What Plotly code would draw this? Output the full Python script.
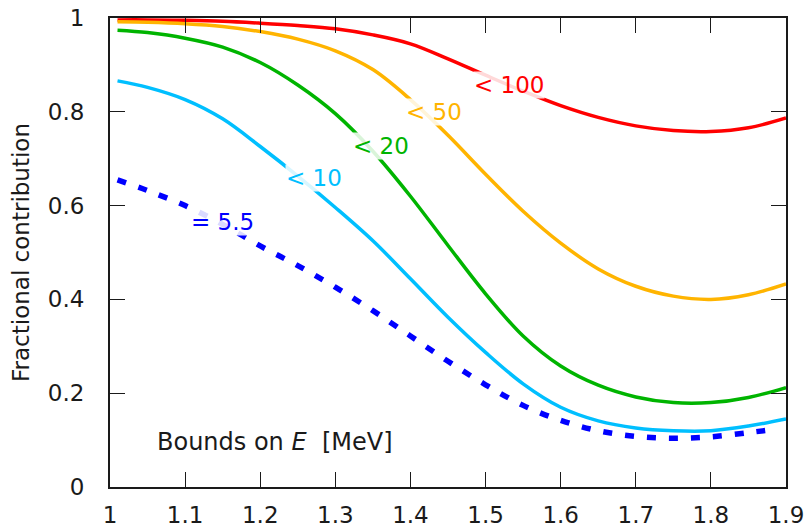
import plotly.graph_objects as go

# Data
x_grid = [1.01, 1.05, 1.1, 1.15, 1.2, 1.25, 1.3, 1.35, 1.4, 1.45, 1.5, 1.55, 1.6, 1.65, 1.7, 1.75, 1.8, 1.85, 1.9]

y_red = [0.996, 0.996, 0.995, 0.993, 0.989, 0.984, 0.977, 0.964, 0.945, 0.913, 0.878, 0.844, 0.813, 0.788, 0.77, 0.76, 0.758, 0.766, 0.787]
y_orange = [0.992, 0.991, 0.988, 0.982, 0.971, 0.955, 0.93, 0.89, 0.826, 0.75, 0.667, 0.588, 0.52, 0.465, 0.428, 0.407, 0.40, 0.41, 0.433]
y_green = [0.974, 0.969, 0.957, 0.938, 0.905, 0.857, 0.796, 0.716, 0.62, 0.515, 0.412, 0.322, 0.258, 0.217, 0.192, 0.18, 0.18, 0.191, 0.212]
y_cyan = [0.866, 0.852, 0.826, 0.785, 0.726, 0.663, 0.596, 0.525, 0.444, 0.362, 0.287, 0.22, 0.17, 0.141, 0.126, 0.12, 0.12, 0.13, 0.145]

x_blue = [1.01, 1.05, 1.1, 1.15, 1.2, 1.25, 1.3, 1.35, 1.4, 1.45, 1.5, 1.55, 1.6, 1.65, 1.7, 1.75, 1.8, 1.85, 1.88]
y_blue = [0.655, 0.632, 0.60, 0.56, 0.514, 0.472, 0.426, 0.376, 0.322, 0.268, 0.218, 0.174, 0.142, 0.12, 0.108, 0.104, 0.107, 0.116, 0.122]

series = [
    (x_grid, y_red, "#ff0000", "solid"),
    (x_grid, y_orange, "#ffb400", "solid"),
    (x_grid, y_green, "#00b400", "solid"),
    (x_grid, y_cyan, "#00bfff", "solid"),
    (x_blue, y_blue, "#0000ff", "dash"),
]

labels = ["< 100", "< 50", "< 20", "< 10", "= 5.5"]
label_x = [1.531, 1.431, 1.361, 1.271, 1.15]
label_y = [0.858, 0.80, 0.728, 0.659, 0.566]
label_colors = ["#ff0000", "#ffb400", "#00b400", "#00bfff", "#0000ff"]

FONT = "DejaVu Sans, sans-serif"
INK = "#1a1a1a"

fig = go.Figure()
for xs, ys, c, d in series:
    fig.add_trace(go.Scatter(
        x=xs, y=ys, mode="lines",
        line=dict(color=c, width=3.5 if d == "solid" else 5.5,
                  dash="9px,13px" if d == "dash" else d, shape="spline", smoothing=1.0),
        showlegend=False, hoverinfo="skip",
    ))

for t, lx, ly, c in zip(labels, label_x, label_y, label_colors):
    fig.add_annotation(x=lx, y=ly, text=t, showarrow=False,
                       font=dict(family=FONT, size=23, color=c),
                       bgcolor="rgba(255,255,255,0.85)", borderpad=0)

fig.add_annotation(x=0.067, y=0.096, xref="paper", yref="paper", xanchor="left", yanchor="middle",
                   text="Bounds on <i>E</i>  [MeV]", showarrow=False,
                   font=dict(family=FONT, size=24, color=INK))

axis_common = dict(
    showgrid=False, zeroline=False, showline=True, linecolor=INK, linewidth=2,
    mirror="ticks", ticks="inside", ticklen=15, tickwidth=1.2, tickcolor=INK,
    tickfont=dict(family=FONT, size=23, color=INK), automargin=False,
)

fig.update_xaxes(range=[1, 1.9], dtick=0.1, tick0=1, ticklabelstandoff=6, **axis_common)
fig.update_yaxes(range=[0, 1], dtick=0.2, tick0=0, ticklabelstandoff=19,
                 title=dict(text="Fractional contribution", font=dict(family=FONT, size=23, color=INK), standoff=12),
                 **axis_common)

fig.update_layout(
    width=806, height=529,
    margin=dict(l=110, r=20, t=18, b=42),
    paper_bgcolor="white", plot_bgcolor="white",
)

fig.write_html("out.html")
